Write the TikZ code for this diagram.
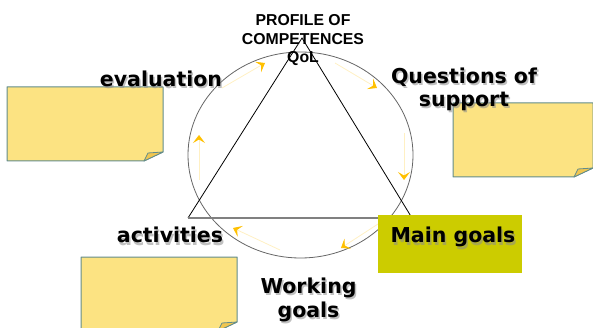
\documentclass[tikz,border=0pt]{standalone}
\usepackage{fontspec}
\setmainfont{DejaVu Sans}
\newfontfamily\headfont{Liberation Sans}
\usetikzlibrary{arrows.meta}

\definecolor{notefill}{RGB}{252,227,130}
\definecolor{noteedge}{RGB}{98,140,140}
\definecolor{notefold}{RGB}{240,198,80}
\definecolor{goalfill}{RGB}{204,204,0}
\definecolor{arrowgold}{RGB}{255,192,0}
\definecolor{arrowpale}{RGB}{255,240,195}

\tikzset{
  note/.style={draw=noteedge, line width=1pt, fill=notefill, line join=round},
  fold/.style={draw=noteedge, line width=0.8pt, fill=notefold, line join=round},
  cyc/.style={draw=arrowpale, line width=0.8pt,
    -{Stealth[length=8pt,width=12pt,inset=3.5pt,color=arrowgold]}},
  lbl/.style={font=\fontsize{20.5}{23.5}\selectfont\bfseries, align=center, anchor=base},
  lblshadow/.style={lbl, text=black!45, opacity=0.55},
  head/.style={font=\headfont\fontsize{15.8}{18.5}\selectfont\bfseries, align=center, anchor=base},
}

\begin{document}
\begin{tikzpicture}[x=1pt,y=-1pt]
    \useasboundingbox (0,0) rectangle (593,328);
    % circle and triangle
    \draw[black!60, line width=0.8pt] (300.5,155) ellipse [x radius=112.5, y radius=103];
    \draw[black, line width=0.8pt] (188,218) -- (302,38) -- (412,218);
    \draw[black!50, line width=2pt] (188,218) -- (412,218);
    % cycle arrows
    \draw[cyc] (222,88) -- (265,63);
    \draw[cyc] (335,63) -- (377,88);
    \draw[cyc] (404,133) -- (404,180);
    \draw[cyc] (378,224) -- (341,248);
    \draw[cyc] (280,250) -- (233,228);
    \draw[cyc] (199,180) -- (199,135);
    % sticky notes
    \foreach \x/\y/\w in {7/87/156, 453/103/140, 81/257/156}
    {   \draw[note] (\x,\y) -- (\x+\w,\y) -- (\x+\w,\y+65) -- (\x+\w-19,\y+74) -- (\x,\y+74) -- cycle;
        \draw[fold] (\x+\w-19,\y+74) -- (\x+\w-15,\y+66) -- (\x+\w,\y+65) -- cycle;
    }
    % main goals box
    \fill[goalfill] (378,215) rectangle (522,273);
    % labels (multi-line nodes sit on their last baseline)
    \node[head] (profile) at (303,63) {PROFILE OF\\COMPETENCES\\QoL};
    \node[lblshadow] (evalshadow) at (162.5,89) {evaluation};
    \node[lbl] (eval) at (161,87) {evaluation};
    \node[lblshadow] (questshadow) at (465.5,109) {Questions of\\support};
    \node[lbl] (quest) at (464,107) {Questions of\\support};
    \node[lblshadow] (actshadow) at (171.5,245) {activities};
    \node[lbl] (act) at (170,243) {activities};
    \node[lblshadow] (mainshadow) at (454.5,245) {Main goals};
    \node[lbl] (main) at (453,243) {Main goals};
    \node[lblshadow] (workshadow) at (310,319) {Working\\goals};
    \node[lbl] (work) at (308.5,317) {Working\\goals};
  \end{tikzpicture}
\end{document}
